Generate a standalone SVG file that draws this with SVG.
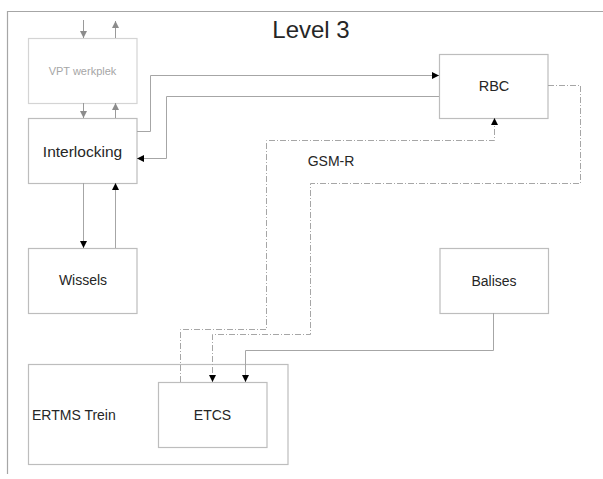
<svg xmlns="http://www.w3.org/2000/svg" width="603" height="479" viewBox="0 0 603 479">
<defs>
<style>
.box{fill:#fff;stroke:#bdbdbd;stroke-width:1.2}
.vbox{fill:#fff;stroke:#d4d4d4;stroke-width:1.2}
.lbl{font-family:"Liberation Sans",Arial,sans-serif;fill:#262626;text-anchor:middle;dominant-baseline:central}
.ln{fill:none;stroke:#a6a6a6;stroke-width:1}
.gl{fill:none;stroke:#9a9a9a;stroke-width:1}
.dd{fill:none;stroke:#a6a6a6;stroke-width:1;stroke-dasharray:6 2 1 2}
</style>
<marker id="ab" markerUnits="userSpaceOnUse" markerWidth="8" markerHeight="8" refX="7" refY="3.5" orient="auto"><path d="M0,0 L7,3.5 L0,7 z" fill="#000"/></marker>
<marker id="ag" markerUnits="userSpaceOnUse" markerWidth="8" markerHeight="8" refX="7" refY="3.5" orient="auto"><path d="M0,0 L7,3.5 L0,7 z" fill="#8c8c8c"/></marker>
</defs>
<rect width="603" height="479" fill="#fff"/>
<path d="M7.5,474 V11.5 H603" fill="none" stroke="#a6a6a6" stroke-width="1.2"/>
<text x="311" y="29" class="lbl" font-size="24">Level 3</text>

<g id="vpt">
<rect class="vbox" x="28.5" y="38.5" width="108.5" height="65"/>
<text x="82.5" y="71" class="lbl" font-size="11" style="fill:#a6a6a6">VPT werkplek</text>
</g>
<g id="interlocking">
<rect class="box" x="28.5" y="118.5" width="108.5" height="65"/>
<text x="82.5" y="151" class="lbl" font-size="15.5">Interlocking</text>
</g>
<g id="wissels">
<rect class="box" x="28.5" y="248.5" width="108.5" height="65"/>
<text x="83" y="280" class="lbl" font-size="14">Wissels</text>
</g>
<g id="rbc">
<rect class="box" x="439.5" y="54.5" width="108.5" height="64"/>
<text x="494" y="86" class="lbl" font-size="14.5">RBC</text>
</g>
<g id="balises">
<rect class="box" x="440" y="248.5" width="108.5" height="65"/>
<text x="494" y="281" class="lbl" font-size="14">Balises</text>
</g>
<g id="ertms">
<rect class="box" x="28.5" y="364.5" width="259.5" height="100"/>
<text x="32" y="415" class="lbl" font-size="14" style="text-anchor:start">ERTMS Trein</text>
</g>
<g id="etcs">
<rect class="box" x="158.5" y="382.5" width="108.5" height="65"/>
<text x="212.5" y="415" class="lbl" font-size="14">ETCS</text>
</g>

<g id="connectors">
<path class="ln" d="M137,131.5 H150.5 V75.5 H439" marker-end="url(#ab)"/>
<path class="ln" d="M439,96.5 H166.5 V158.5 H137" marker-end="url(#ab)"/>
<path class="ln" d="M83.5,183 V248" marker-end="url(#ab)"/>
<path class="ln" d="M115.5,248 V183" marker-end="url(#ab)"/>
<path class="gl" d="M83.5,20 V38" marker-end="url(#ag)"/>
<path class="gl" d="M115.5,38 V21" marker-end="url(#ag)"/>
<path class="gl" d="M83.5,103 V118" marker-end="url(#ag)"/>
<path class="gl" d="M115.5,118 V103" marker-end="url(#ag)"/>
<path class="dd" d="M548,85.5 H580.5 V183.5 H310.5 V334.5 H212.5 V382" marker-end="url(#ab)"/>
<path class="dd" d="M180.5,382 V329.5 H266.5 V140.5 H494.5 V118" marker-end="url(#ab)"/>
<path class="ln" d="M493.5,313 V350.5 H245.5 V382" marker-end="url(#ab)"/>
</g>
<text x="331" y="161" class="lbl" font-size="14">GSM-R</text>
</svg>
